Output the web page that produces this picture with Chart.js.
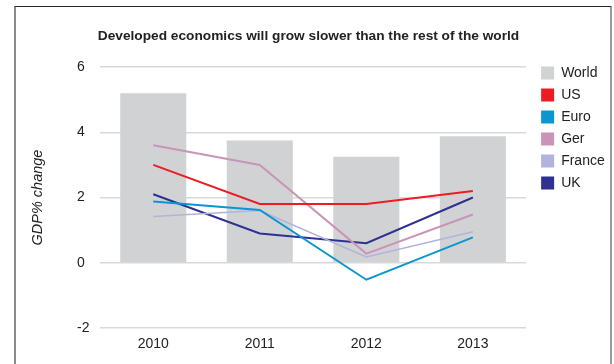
<!DOCTYPE html>
<html>
<head>
<meta charset="utf-8">
<script src="https://cdn.jsdelivr.net/npm/chart.js@4.4.0/dist/chart.umd.min.js"></script>
<style>
  html, body { margin: 0; padding: 0; background: #ffffff; }
  #wrap { position: relative; width: 614px; height: 364px; overflow: hidden; }
  #frame { position: absolute; left: 14px; top: 6px; width: 598px; height: 420px; box-sizing: border-box;
           border-top: 1px solid #2a2a2a; border-left: 2px solid #8a8a8a; border-right: 2px solid #9a9a9a; }
  canvas { position: absolute; left: 0; top: 0; }
</style>
</head>
<body>
<div id="wrap">
  <div id="frame"></div>
  <canvas id="c" width="614" height="364"></canvas>
</div>
<script>
const categories = ['2010', '2011', '2012', '2013'];
const world = [5.2, 3.75, 3.25, 3.88];
const us = [3.0, 1.8, 1.8, 2.2];
const euro = [1.88, 1.62, -0.52, 0.78];
const ger = [3.6, 3.0, 0.28, 1.48];
const france = [1.42, 1.6, 0.18, 0.95];
const uk = [2.1, 0.9, 0.6, 2.0];
const yTicks = [-2, 0, 2, 4, 6];
const titleText = 'Developed economics will grow slower than the rest of the world';
const yTitleText = 'GDP% change';

const FONT = "'Liberation Sans', Arial, Helvetica, sans-serif";

function lineDs(label, data, color, width) {
  return { type: 'line', label, data, borderColor: color, backgroundColor: color,
           borderWidth: width, pointRadius: 0, fill: false, tension: 0, order: 0 };
}

new Chart(document.getElementById('c'), {
  type: 'bar',
  data: {
    labels: categories,
    datasets: [
      { type: 'bar', label: 'World', data: world, backgroundColor: '#d1d2d4', borderWidth: 0,
        barPercentage: 1, categoryPercentage: 0.62, order: 1 },
      lineDs('US', us, '#ed1c24', 2),
      lineDs('Euro', euro, '#0b96d1', 2),
      lineDs('Ger', ger, '#c994b5', 2),
      lineDs('France', france, '#b2b3dc', 1.5),
      lineDs('UK', uk, '#2e3192', 2)
    ]
  },
  options: {
    responsive: false,
    animation: false,
    devicePixelRatio: 1,
    layout: { padding: { left: 9, right: 6, top: 0, bottom: 0 } },
    plugins: {
      tooltip: { enabled: false },
      title: {
        display: true, text: titleText, color: '#222',
        font: { family: FONT, size: 13.7, weight: 'bold', lineHeight: 1.2 },
        padding: { top: 27.8, bottom: 22.8 }
      },
      legend: {
        position: 'right', align: 'start',
        title: { display: true, text: '', font: { size: 10, lineHeight: 1.2 }, padding: { top: 46, bottom: 0 } },
        labels: {
          boxWidth: 13, boxHeight: 13, padding: 8, color: '#222',
          font: { family: FONT, size: 14 },
          sort: (a, b) => a.datasetIndex - b.datasetIndex,
          generateLabels: chart => Chart.defaults.plugins.legend.labels.generateLabels(chart)
            .map(l => Object.assign(l, { lineWidth: 0 }))
        }
      }
    },
    scales: {
      x: {
        type: 'category',
        grid: { display: false, drawTicks: false },
        border: { display: false },
        ticks: { color: '#222', padding: 8, font: { family: FONT, size: 14 } },
        afterFit: s => { s.height = 36; }
      },
      y: {
        type: 'linear', position: 'left', weight: 0,
        min: -2, max: 6,
        afterBuildTicks: s => { s.ticks = yTicks.map(v => ({ value: v })); },
        grid: { color: '#d9d9d9', lineWidth: 1.5, drawTicks: false },
        border: { display: false },
        ticks: { color: '#222', crossAlign: 'far', font: { family: FONT, size: 14 } },
        afterFit: s => { s.width = 23; }
      },
      yTitle: {
        type: 'linear', position: 'left', weight: 10, display: true,
        grid: { display: false, drawTicks: false },
        border: { display: false },
        ticks: { display: false },
        title: { display: true, text: yTitleText, color: '#222',
                 font: { family: FONT, size: 14.5, style: 'italic', lineHeight: 1.2 },
                 padding: { top: 19.8, bottom: 0 } },
        afterFit: s => { s.width = 68; }
      },
      yRight: {
        type: 'linear', position: 'right', display: true,
        grid: { display: false, drawTicks: false },
        border: { display: false },
        ticks: { display: false },
        afterFit: s => { s.width = 7; }
      }
    }
  }
});
</script>
</body>
</html>
